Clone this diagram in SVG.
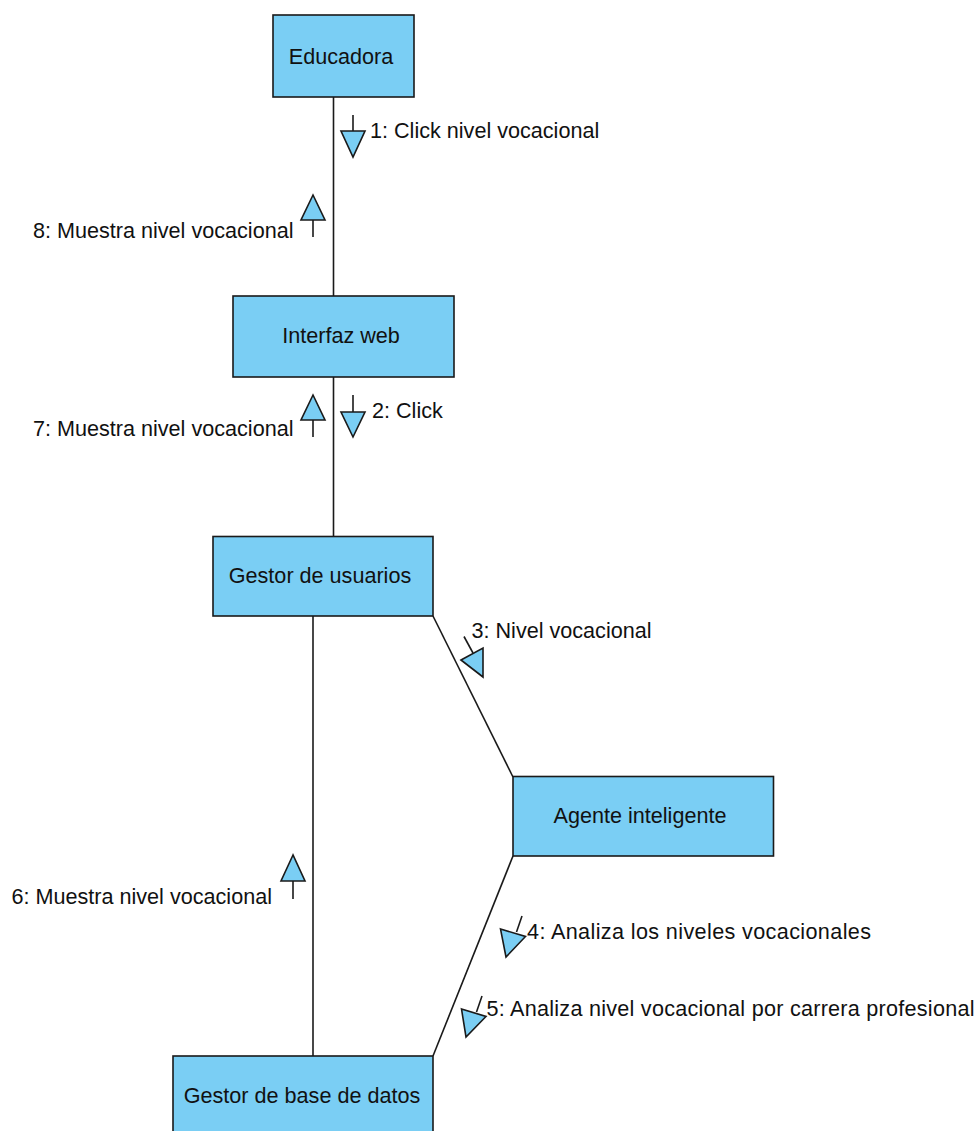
<svg xmlns="http://www.w3.org/2000/svg" width="979" height="1131" viewBox="0 0 979 1131">
<style>
.box{fill:#7ACEF4;stroke:#1a1a1a;stroke-width:1.6}
.lbl{font-family:"Liberation Sans",Arial,sans-serif;font-size:21.6px;fill:#111}
.nl{text-anchor:middle}
.ln{stroke:#1a1a1a;stroke-width:1.6;fill:none}
.ar{fill:#7ACEF4;stroke:#1a1a1a;stroke-width:1.6;stroke-linejoin:miter}
</style>
<rect width="979" height="1131" fill="#ffffff"/>
<g id="connectors">
<line class="ln" x1="333.5" y1="97" x2="333.5" y2="296"/>
<line class="ln" x1="333.5" y1="377" x2="333.5" y2="537"/>
<line class="ln" x1="433" y1="616" x2="513" y2="777"/>
<line class="ln" x1="313" y1="616" x2="313" y2="1056"/>
<line class="ln" x1="513" y1="856" x2="433" y2="1056"/>
</g>
<g id="messages">
<g id="m1">
<line class="ln" x1="353" y1="115" x2="353" y2="131"/>
<polygon class="ar" points="341,131 365,131 353,157"/>
<text class="lbl" x="370" y="138">1: Click nivel vocacional</text>
</g>
<g id="m8">
<polygon class="ar" points="313,195 301,220 325,220"/>
<line class="ln" x1="313" y1="220" x2="313" y2="237"/>
<text class="lbl" x="33" y="238">8: Muestra nivel vocacional</text>
</g>
<g id="m7">
<polygon class="ar" points="313,395 301,420 325,420"/>
<line class="ln" x1="313" y1="420" x2="313" y2="437"/>
<text class="lbl" x="33" y="436">7: Muestra nivel vocacional</text>
</g>
<g id="m2">
<line class="ln" x1="353" y1="395" x2="353" y2="412"/>
<polygon class="ar" points="341,412 365,412 353,437"/>
<text class="lbl" x="372" y="418">2: Click</text>
</g>
<g id="m3">
<line class="ln" x1="464" y1="636.5" x2="473" y2="653"/>
<polygon class="ar" points="461,660 483,648 483,677"/>
<text class="lbl" x="471.5" y="638">3: Nivel vocacional</text>
</g>
<g id="m4">
<line class="ln" x1="522" y1="916" x2="516.5" y2="932"/>
<polygon class="ar" points="500.5,929 525.5,936.5 506,957"/>
<text class="lbl" x="527" y="939" textLength="344" lengthAdjust="spacing">4: Analiza los niveles vocacionales</text>
</g>
<g id="m5">
<line class="ln" x1="482" y1="996" x2="476.5" y2="1012"/>
<polygon class="ar" points="461.5,1009 486,1016.5 466,1037"/>
<text class="lbl" x="486.5" y="1016" textLength="488" lengthAdjust="spacing">5: Analiza nivel vocacional por carrera profesional</text>
</g>
<g id="m6">
<polygon class="ar" points="293,855 281,881 305,881"/>
<line class="ln" x1="293" y1="881" x2="293" y2="899"/>
<text class="lbl" x="11.5" y="904">6: Muestra nivel vocacional</text>
</g>
</g>
<g id="educadora">
<rect class="box" x="273" y="15" width="141" height="82"/>
<text class="lbl nl" x="341" y="64">Educadora</text>
</g>
<g id="interfaz">
<rect class="box" x="233" y="296" width="221" height="81"/>
<text class="lbl nl" x="341" y="343">Interfaz web</text>
</g>
<g id="gestor-usuarios">
<rect class="box" x="213" y="536.5" width="220" height="79.5"/>
<text class="lbl nl" x="320" y="583">Gestor de usuarios</text>
</g>
<g id="agente">
<rect class="box" x="513" y="776.5" width="260.5" height="79.5"/>
<text class="lbl nl" x="640" y="823">Agente inteligente</text>
</g>
<g id="gestor-bd">
<rect class="box" x="173" y="1056" width="260" height="80"/>
<text class="lbl nl" x="302" y="1103">Gestor de base de datos</text>
</g>
</svg>
